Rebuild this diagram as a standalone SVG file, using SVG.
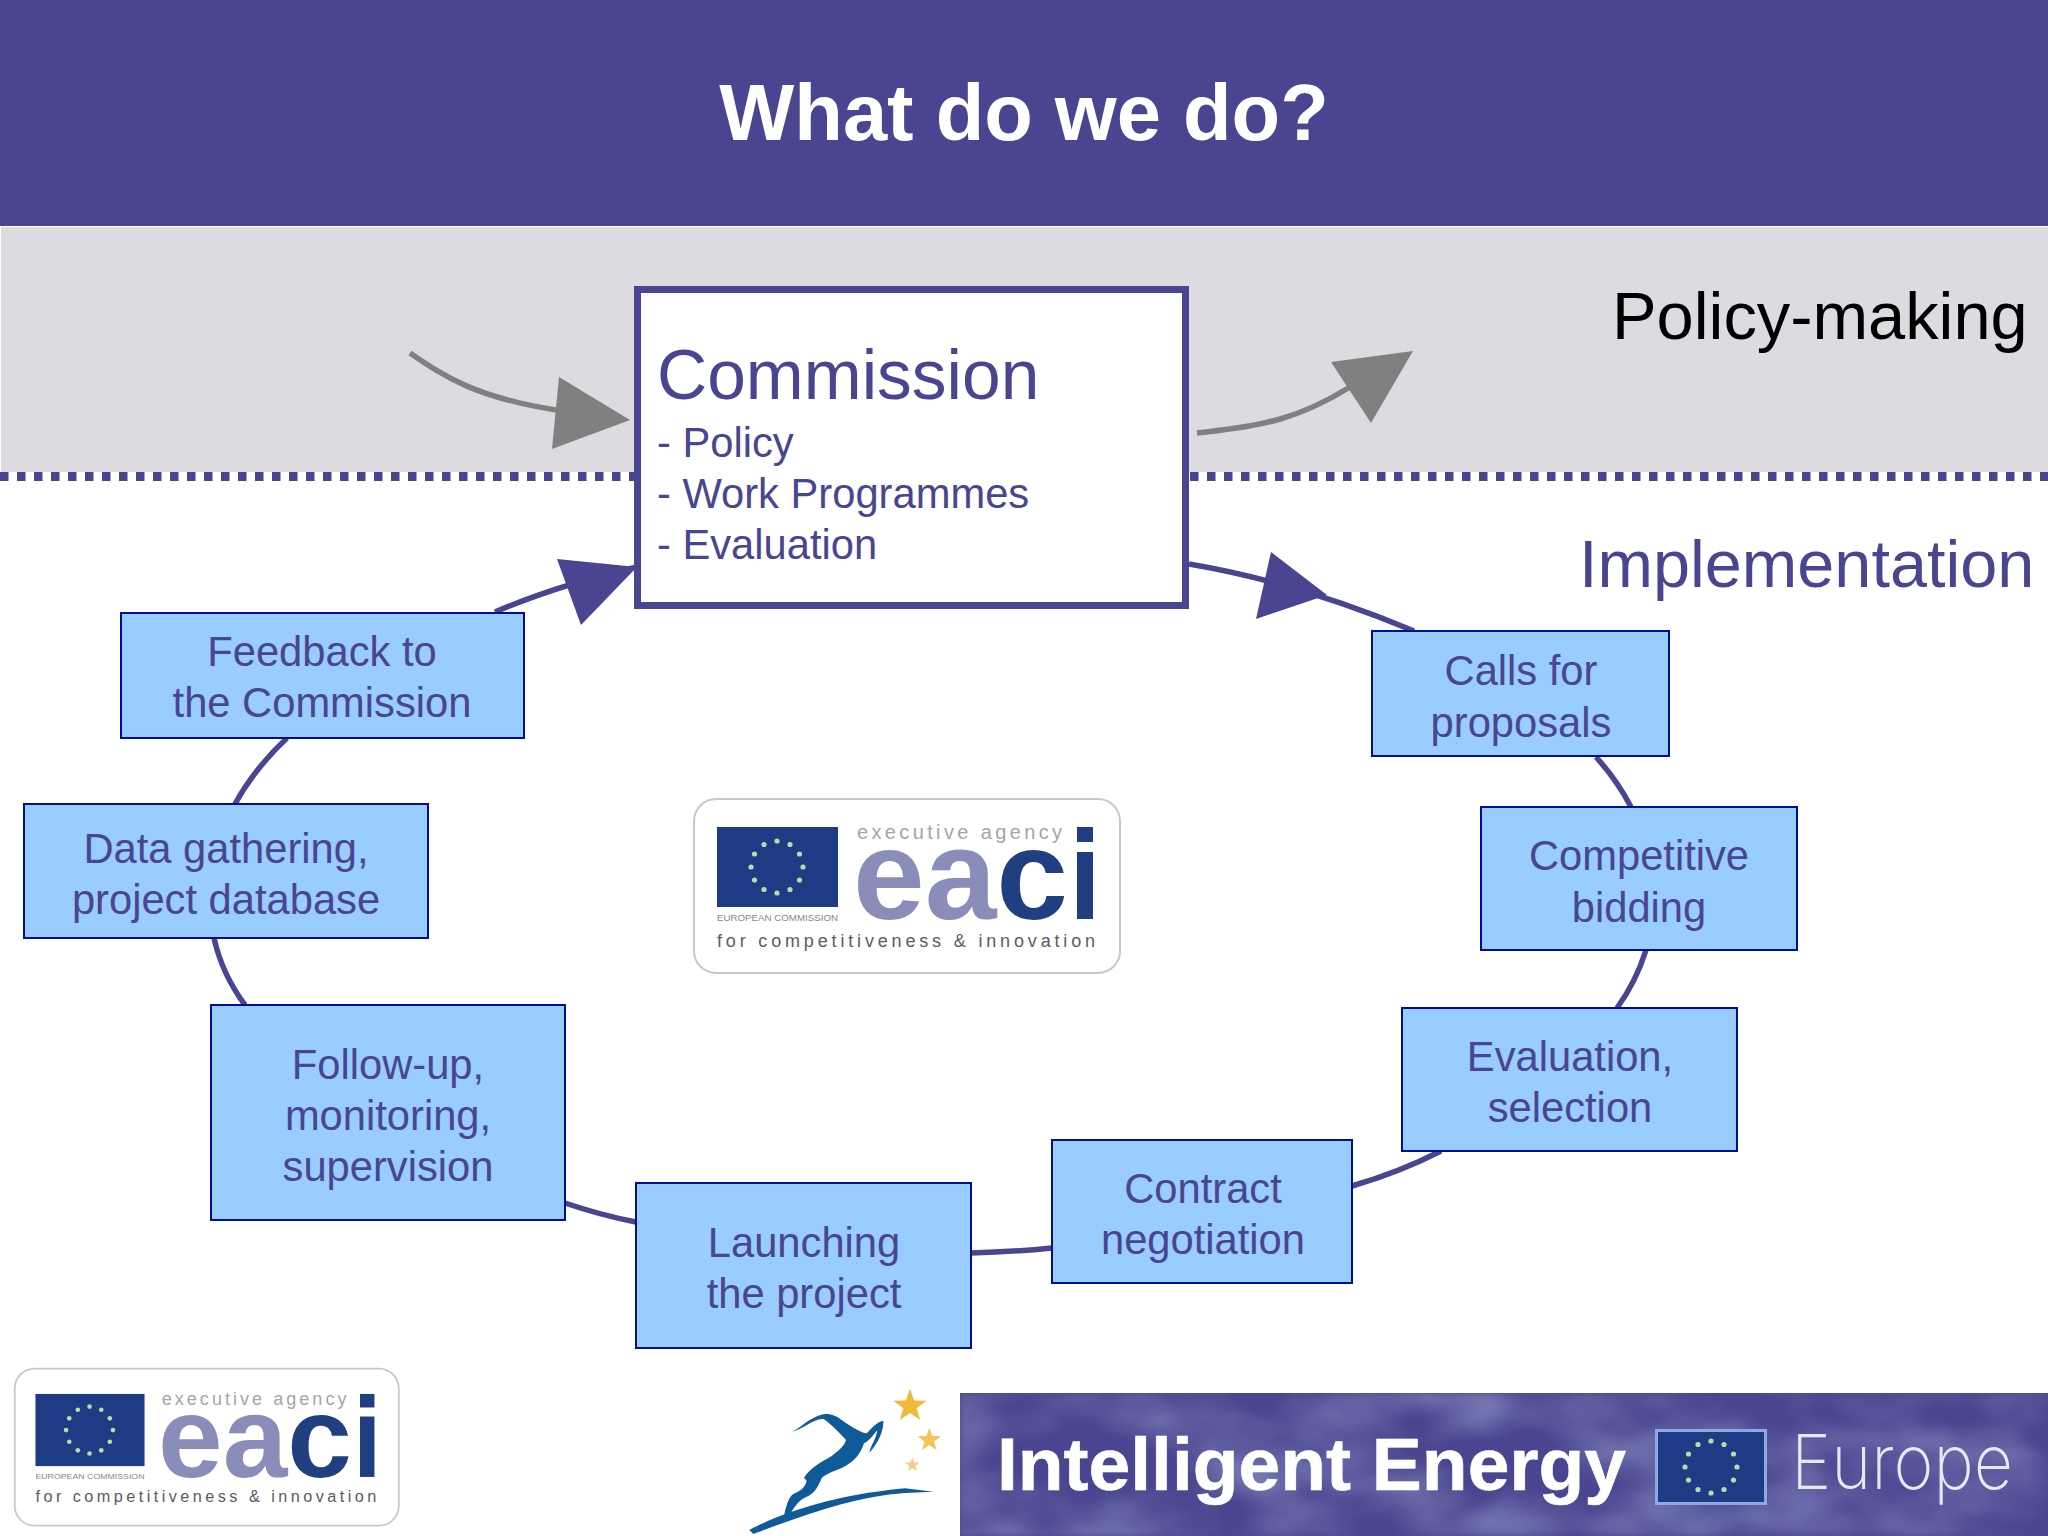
<svg xmlns="http://www.w3.org/2000/svg" width="2048" height="1536" viewBox="0 0 2048 1536">
<style>
text{font-family:"Liberation Sans",Arial,sans-serif}
.box{fill:#99ccff;stroke:#000e96;stroke-width:2}
.lbl{font-size:41.7px;fill:#4a4590;text-anchor:middle}
.cm{font-size:41.7px;fill:#4a4590}
.arc{fill:none;stroke:#4a4590;stroke-width:5.5}
.gr{fill:none;stroke:#808080;stroke-width:5.5}
.dot{fill:#b9dca8}
</style>
<defs>
<polygon id="star" points="0,-1 .235,-.324 .951,-.309 .38,.124 .588,.809 0,.4 -.588,.809 -.38,.124 -.951,-.309 -.235,-.324"/>
<g id="ring">
<circle class="dot" cx="0" cy="-26" r="2.6"/><circle class="dot" cx="13" cy="-22.5" r="2.6"/><circle class="dot" cx="22.5" cy="-13" r="2.6"/><circle class="dot" cx="26" cy="0" r="2.6"/><circle class="dot" cx="22.5" cy="13" r="2.6"/><circle class="dot" cx="13" cy="22.5" r="2.6"/><circle class="dot" cx="0" cy="26" r="2.6"/><circle class="dot" cx="-13" cy="22.5" r="2.6"/><circle class="dot" cx="-22.5" cy="13" r="2.6"/><circle class="dot" cx="-26" cy="0" r="2.6"/><circle class="dot" cx="-22.5" cy="-13" r="2.6"/><circle class="dot" cx="-13" cy="-22.5" r="2.6"/>
</g>
<g id="logo">
<rect x="694" y="799" width="426" height="174" rx="22" fill="#fff" stroke="#c9c9cd" stroke-width="2"/>
<rect x="717" y="827" width="121" height="80" fill="#1d3c85"/>
<use href="#ring" x="777" y="867"/>
<text x="717" y="921" font-size="9" fill="#888" textLength="121" lengthAdjust="spacingAndGlyphs">EUROPEAN COMMISSION</text>
<text x="857" y="839" font-size="20" fill="#a5a5a8" textLength="205">executive agency</text>
<rect x="1077" y="827" width="16" height="15" fill="#1f3f80"/>
<text x="853" y="919" font-size="128" font-weight="bold" textLength="215" lengthAdjust="spacingAndGlyphs"><tspan fill="#8a8cba">ea</tspan><tspan fill="#1f3f80">c</tspan></text>
<rect x="1077" y="852" width="16" height="67" fill="#1f3f80"/>
<text x="717" y="947" font-size="18" fill="#5b5b60" textLength="378">for competitiveness &amp; innovation</text>
</g>
<filter id="clouds" x="0" y="0" width="100%" height="100%">
<feTurbulence type="fractalNoise" baseFrequency="0.008 0.014" numOctaves="3" seed="11"/>
<feColorMatrix type="matrix" values="0 0 0 0 .4  0 0 0 0 .48  0 0 0 0 .72  1.1 0 0 0 -.42"/>
<feGaussianBlur stdDeviation="3"/>
</filter>
</defs>

<rect width="2048" height="1536" fill="#fff"/>
<rect id="header" width="2048" height="226" fill="#4a4590"/>
<rect id="policy-band" x="1" y="227" width="2047" height="245" fill="#dddbdf"/>
<line id="divider" x1="0" y1="476.5" x2="2048" y2="476.5" stroke="#4a4590" stroke-width="9" stroke-dasharray="8.5 8.5"/>
<text id="title" x="1024" y="140" font-size="79.5" font-weight="bold" fill="#fff" text-anchor="middle">What do we do?</text>
<text id="policy-making" x="1612" y="339" font-size="66.8" fill="#000">Policy-making</text>
<text id="implementation" x="1579" y="587" font-size="66.6" fill="#4a4590">Implementation</text>

<g id="connectors">
<path class="gr" d="M410 353C445 377 475 397 556 410"/>
<polygon points="559,377 630,420 552,449" fill="#808080"/>
<path class="gr" d="M1197 433C1265 426 1300 418 1350 387"/>
<polygon points="1331,362 1413,351 1371,423" fill="#808080"/>
<path class="arc" d="M1189 564C1260 576 1340 600 1414 631"/>
<polygon points="1271,552 1327,595 1256,619" fill="#4a4590"/>
<path class="arc" d="M495 612C530 597 580 580 637 567"/>
<polygon points="557,559 637,567 581,625" fill="#4a4590"/>
<path class="arc" d="M1596 757Q1617 780 1631 807"/>
<path class="arc" d="M1646 950Q1636 982 1617 1008"/>
<path class="arc" d="M1441 1151Q1400 1172 1352 1186"/>
<path class="arc" d="M1052 1248Q1012 1252 971 1253"/>
<path class="arc" d="M636 1222Q600 1215 565 1203"/>
<path class="arc" d="M245 1005Q222 974 214 938"/>
<path class="arc" d="M235 804Q255 768 287 738"/>
</g>

<g id="commission">
<rect x="637.5" y="289.500" width="548" height="316" fill="#fff" stroke="#4a4590" stroke-width="7"/>
<text x="657" y="399" font-size="69.5" fill="#4a4590">Commission</text>
<text class="cm" x="657" y="457">- Policy</text>
<text class="cm" x="657" y="508">- Work Programmes</text>
<text class="cm" x="657" y="559">- Evaluation</text>
</g>

<g id="feedback"><rect class="box" x="121" y="613" width="403" height="125"/><text class="lbl" x="322" y="666">Feedback to</text><text class="lbl" x="322" y="717">the Commission</text></g>
<g id="data-gathering"><rect class="box" x="24" y="804" width="404" height="134"/><text class="lbl" x="226" y="863">Data gathering,</text><text class="lbl" x="226" y="914">project database</text></g>
<g id="follow-up"><rect class="box" x="211" y="1005" width="354" height="215"/><text class="lbl" x="388" y="1079">Follow-up,</text><text class="lbl" x="388" y="1130">monitoring,</text><text class="lbl" x="388" y="1181">supervision</text></g>
<g id="launching"><rect class="box" x="636" y="1183" width="335" height="165"/><text class="lbl" x="804" y="1257">Launching</text><text class="lbl" x="804" y="1308">the project</text></g>
<g id="contract"><rect class="box" x="1052" y="1140" width="300" height="143"/><text class="lbl" x="1203" y="1203">Contract</text><text class="lbl" x="1203" y="1254">negotiation</text></g>
<g id="evaluation"><rect class="box" x="1402" y="1008" width="335" height="143"/><text class="lbl" x="1570" y="1071">Evaluation,</text><text class="lbl" x="1570" y="1122">selection</text></g>
<g id="competitive"><rect class="box" x="1481" y="807" width="316" height="143"/><text class="lbl" x="1639" y="870">Competitive</text><text class="lbl" x="1639" y="922">bidding</text></g>
<g id="calls"><rect class="box" x="1372" y="631" width="297" height="125"/><text class="lbl" x="1521" y="685">Calls for</text><text class="lbl" x="1521" y="737">proposals</text></g>

<use id="eaci-logo-center" href="#logo"/>
<use id="eaci-logo-footer" href="#logo" transform="translate(-611 648) scale(.9016 .902)"/>

<g id="gazelle" transform="translate(740 1380) scale(.3333)">
<path d="M150 157C180 150 200 115 250 103C270 100 290 108 305 120C340 145 365 158 380 160C395 145 410 125 430 122C432 150 415 190 388 218C392 195 408 180 412 150C400 165 385 185 372 190C362 220 345 245 305 264C280 274 258 282 245 294C235 318 228 335 205 348C178 358 165 378 152 400L132 408C138 380 145 352 160 342C182 332 196 322 200 302L192 293C212 262 250 243 275 228C295 212 314 198 318 180C300 160 270 130 252 118C225 112 190 150 150 157Z" fill="#0f5a99"/>
<path d="M28 450C100 412 250 348 495 325L580 335L495 339C350 348 200 402 40 462Z" fill="#0f5a99"/>
<use href="#star" transform="translate(510 78) scale(52)" fill="#f1b93a"/>
<use href="#star" transform="translate(568 180) scale(37)" fill="#f4c257"/>
<use href="#star" transform="translate(517 255) scale(23)" fill="#f4cf82"/>
</g>

<g id="banner">
<rect x="960" y="1393" width="1088" height="143" fill="#4a4590"/>
<rect x="960" y="1393" width="1088" height="143" filter="url(#clouds)"/>
<text x="997" y="1490" font-size="75" font-weight="bold" fill="#fff" stroke="#fff" stroke-width=".6" textLength="629" lengthAdjust="spacingAndGlyphs">Intelligent Energy</text>
<rect x="1656.500" y="1430.500" width="109" height="73" fill="#1d3c85" stroke="#8fa8e0" stroke-width="3"/>
<use href="#ring" x="1711" y="1467"/>
<text x="1791" y="1489" font-size="76" font-weight="200" fill="#e6e9f6" textLength="222" lengthAdjust="spacingAndGlyphs" style="font-family:Inter,'Liberation Sans',sans-serif">Europe</text>
</g>
</svg>
